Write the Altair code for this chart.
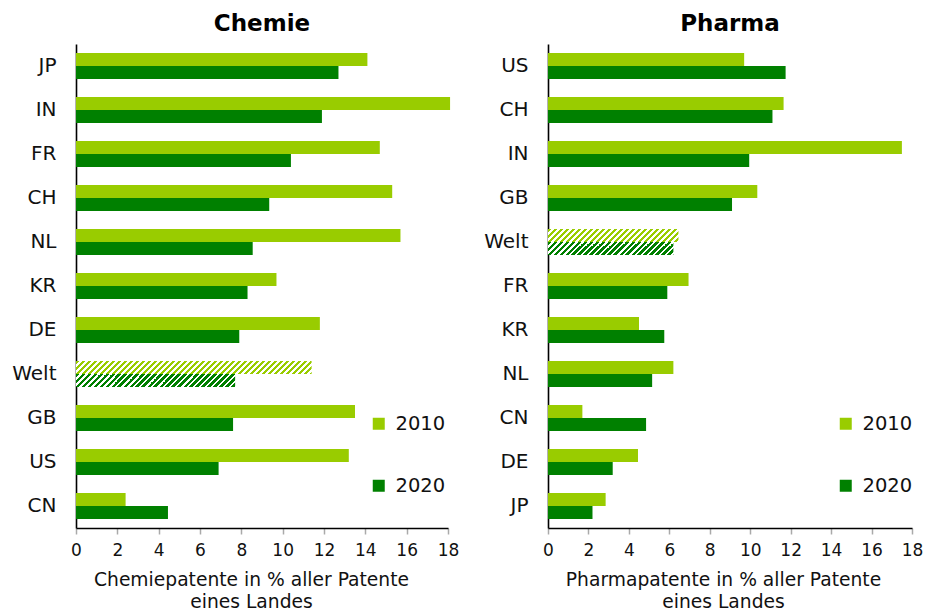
import math
import altair as alt
import pandas as pd

# ---------------- data ----------------
years = ["2010", "2020"]

chem_countries = ["JP", "IN", "FR", "CH", "NL", "KR", "DE", "Welt", "GB", "US", "CN"]
chem_2010 = [14.1, 18.1, 14.7, 15.3, 15.7, 9.7, 11.8, 11.4, 13.5, 13.2, 2.4]
chem_2020 = [12.7, 11.9, 10.4, 9.35, 8.55, 8.3, 7.9, 7.7, 7.6, 6.9, 4.45]

pharma_countries = ["US", "CH", "IN", "GB", "Welt", "FR", "KR", "NL", "CN", "DE", "JP"]
pharma_2010 = [9.7, 11.65, 17.5, 10.35, 6.45, 6.95, 4.5, 6.2, 1.7, 4.45, 2.85]
pharma_2020 = [11.75, 11.1, 9.95, 9.1, 6.2, 5.9, 5.75, 5.15, 4.85, 3.2, 2.2]

x_ticks = [0, 2, 4, 6, 8, 10, 12, 14, 16, 18]
colors = ["#99CC00", "#008000"]

FONT = "DejaVu Sans"
PLOT_H = 484
BAND_PAD = 0.41


def make_df(countries, v2010, v2020):
    rows = []
    for c, a, b in zip(countries, v2010, v2020):
        rows.append({"Land": c, "Jahr": "2010", "Wert": a})
        rows.append({"Land": c, "Jahr": "2020", "Wert": b})
    return pd.DataFrame(rows)


def hatch(color, value, plot_w, bar_h, period=6.0, duty=0.66):
    """diagonal stripe fill as a linear gradient (t = (x+y)/(W+H))"""
    W = value / x_ticks[-1] * plot_w
    H = bar_h
    r = H / W
    a = (1 + r) / (1 + r * r)
    n = (W + H) / period
    stops = []
    k = 0
    while k / n < 1:
        s0 = k / n
        s1 = min((k + duty) / n, 1.0)
        s2 = min((k + 1) / n, 1.0)
        stops += [
            {"offset": s0, "color": color},
            {"offset": s1, "color": color},
            {"offset": s1, "color": "#ffffff"},
            {"offset": s2, "color": "#ffffff"},
        ]
        k += 1
    return {"gradient": "linear", "x1": 0, "y1": 0, "x2": a, "y2": a * r, "stops": stops}


def panel(title, countries, v2010, v2020, axis_title, plot_w, legend_x):
    df = make_df(countries, v2010, v2020)
    step = PLOT_H / len(countries)
    bar_h = step * (1 - BAND_PAD) / 2

    y_enc = alt.Y(
        "Land:N",
        sort=countries,
        scale=alt.Scale(domain=countries, paddingInner=BAND_PAD, paddingOuter=BAND_PAD / 2),
        axis=alt.Axis(
            title=None, ticks=False, labelFontSize=20, labelPadding=20,
            labelColor="#111", domainColor="#000", domainWidth=1.6,
        ),
    )
    x_enc = alt.X(
        "Wert:Q",
        scale=alt.Scale(domain=[0, x_ticks[-1]], nice=False),
        axis=alt.Axis(
            values=x_ticks, title=axis_title, labelFontSize=17, labelFlush=False,
            labelOverlap=False, labelPadding=8, labelColor="#111",
            tickColor="#aaa", tickSize=6, tickWidth=1.5,
            domainColor="#000", domainWidth=1.6, grid=False,
            titleFontSize=18.7, titleFontWeight="normal", titleColor="#111",
            titleLineHeight=22, titlePadding=12, titleX=175, titleAlign="center",
        ),
    )
    yoff = alt.YOffset("Jahr:N", sort=years, scale=alt.Scale(domain=years))

    base = alt.Chart(df)
    bars = base.transform_filter(alt.datum.Land != "Welt").mark_bar(strokeWidth=0).encode(
        x=x_enc,
        y=y_enc,
        yOffset=yoff,
        color=alt.Color(
            "Jahr:N",
            scale=alt.Scale(domain=years, range=colors),
            legend=alt.Legend(
                title=None, orient="none", legendX=legend_x, legendY=370,
                symbolType="square", symbolSize=144, symbolStrokeWidth=0,
                labelFontSize=19.5, labelOffset=7, rowPadding=41, padding=0,
                labelColor="#111",
            ),
        ),
    )
    layers = [bars]
    wi = countries.index("Welt")
    for yr, col, vals in zip(years, colors, [v2010, v2020]):
        g = hatch(col, vals[wi], plot_w, bar_h)
        layers.append(
            base.transform_filter((alt.datum.Land == "Welt") & (alt.datum.Jahr == yr))
            .mark_bar(strokeWidth=0)
            .encode(x=x_enc, y=y_enc, yOffset=yoff, fill=alt.value(g))
        )
    return alt.layer(*layers).properties(
        width=plot_w,
        height=PLOT_H,
        title=alt.Title(title, fontSize=23, fontWeight="bold", color="#000", offset=8),
    )


left = panel("Chemie", chem_countries, chem_2010, chem_2020,
             ["Chemiepatente in % aller Patente", "eines Landes"], 372, 293)
right = panel("Pharma", pharma_countries, pharma_2010, pharma_2020,
              ["Pharmapatente in % aller Patente", "eines Landes"], 364, 288)

chart = (
    alt.hconcat(left, right, spacing=24)
    .resolve_legend(color="independent")
    .resolve_scale(color="shared")
    .properties(padding={"left": 3, "top": 5, "right": 0, "bottom": 0})
    .configure(font=FONT)
    .configure_view(stroke=None)
)

chart.save("out.html", embed_options={"renderer": "svg", "actions": False})
